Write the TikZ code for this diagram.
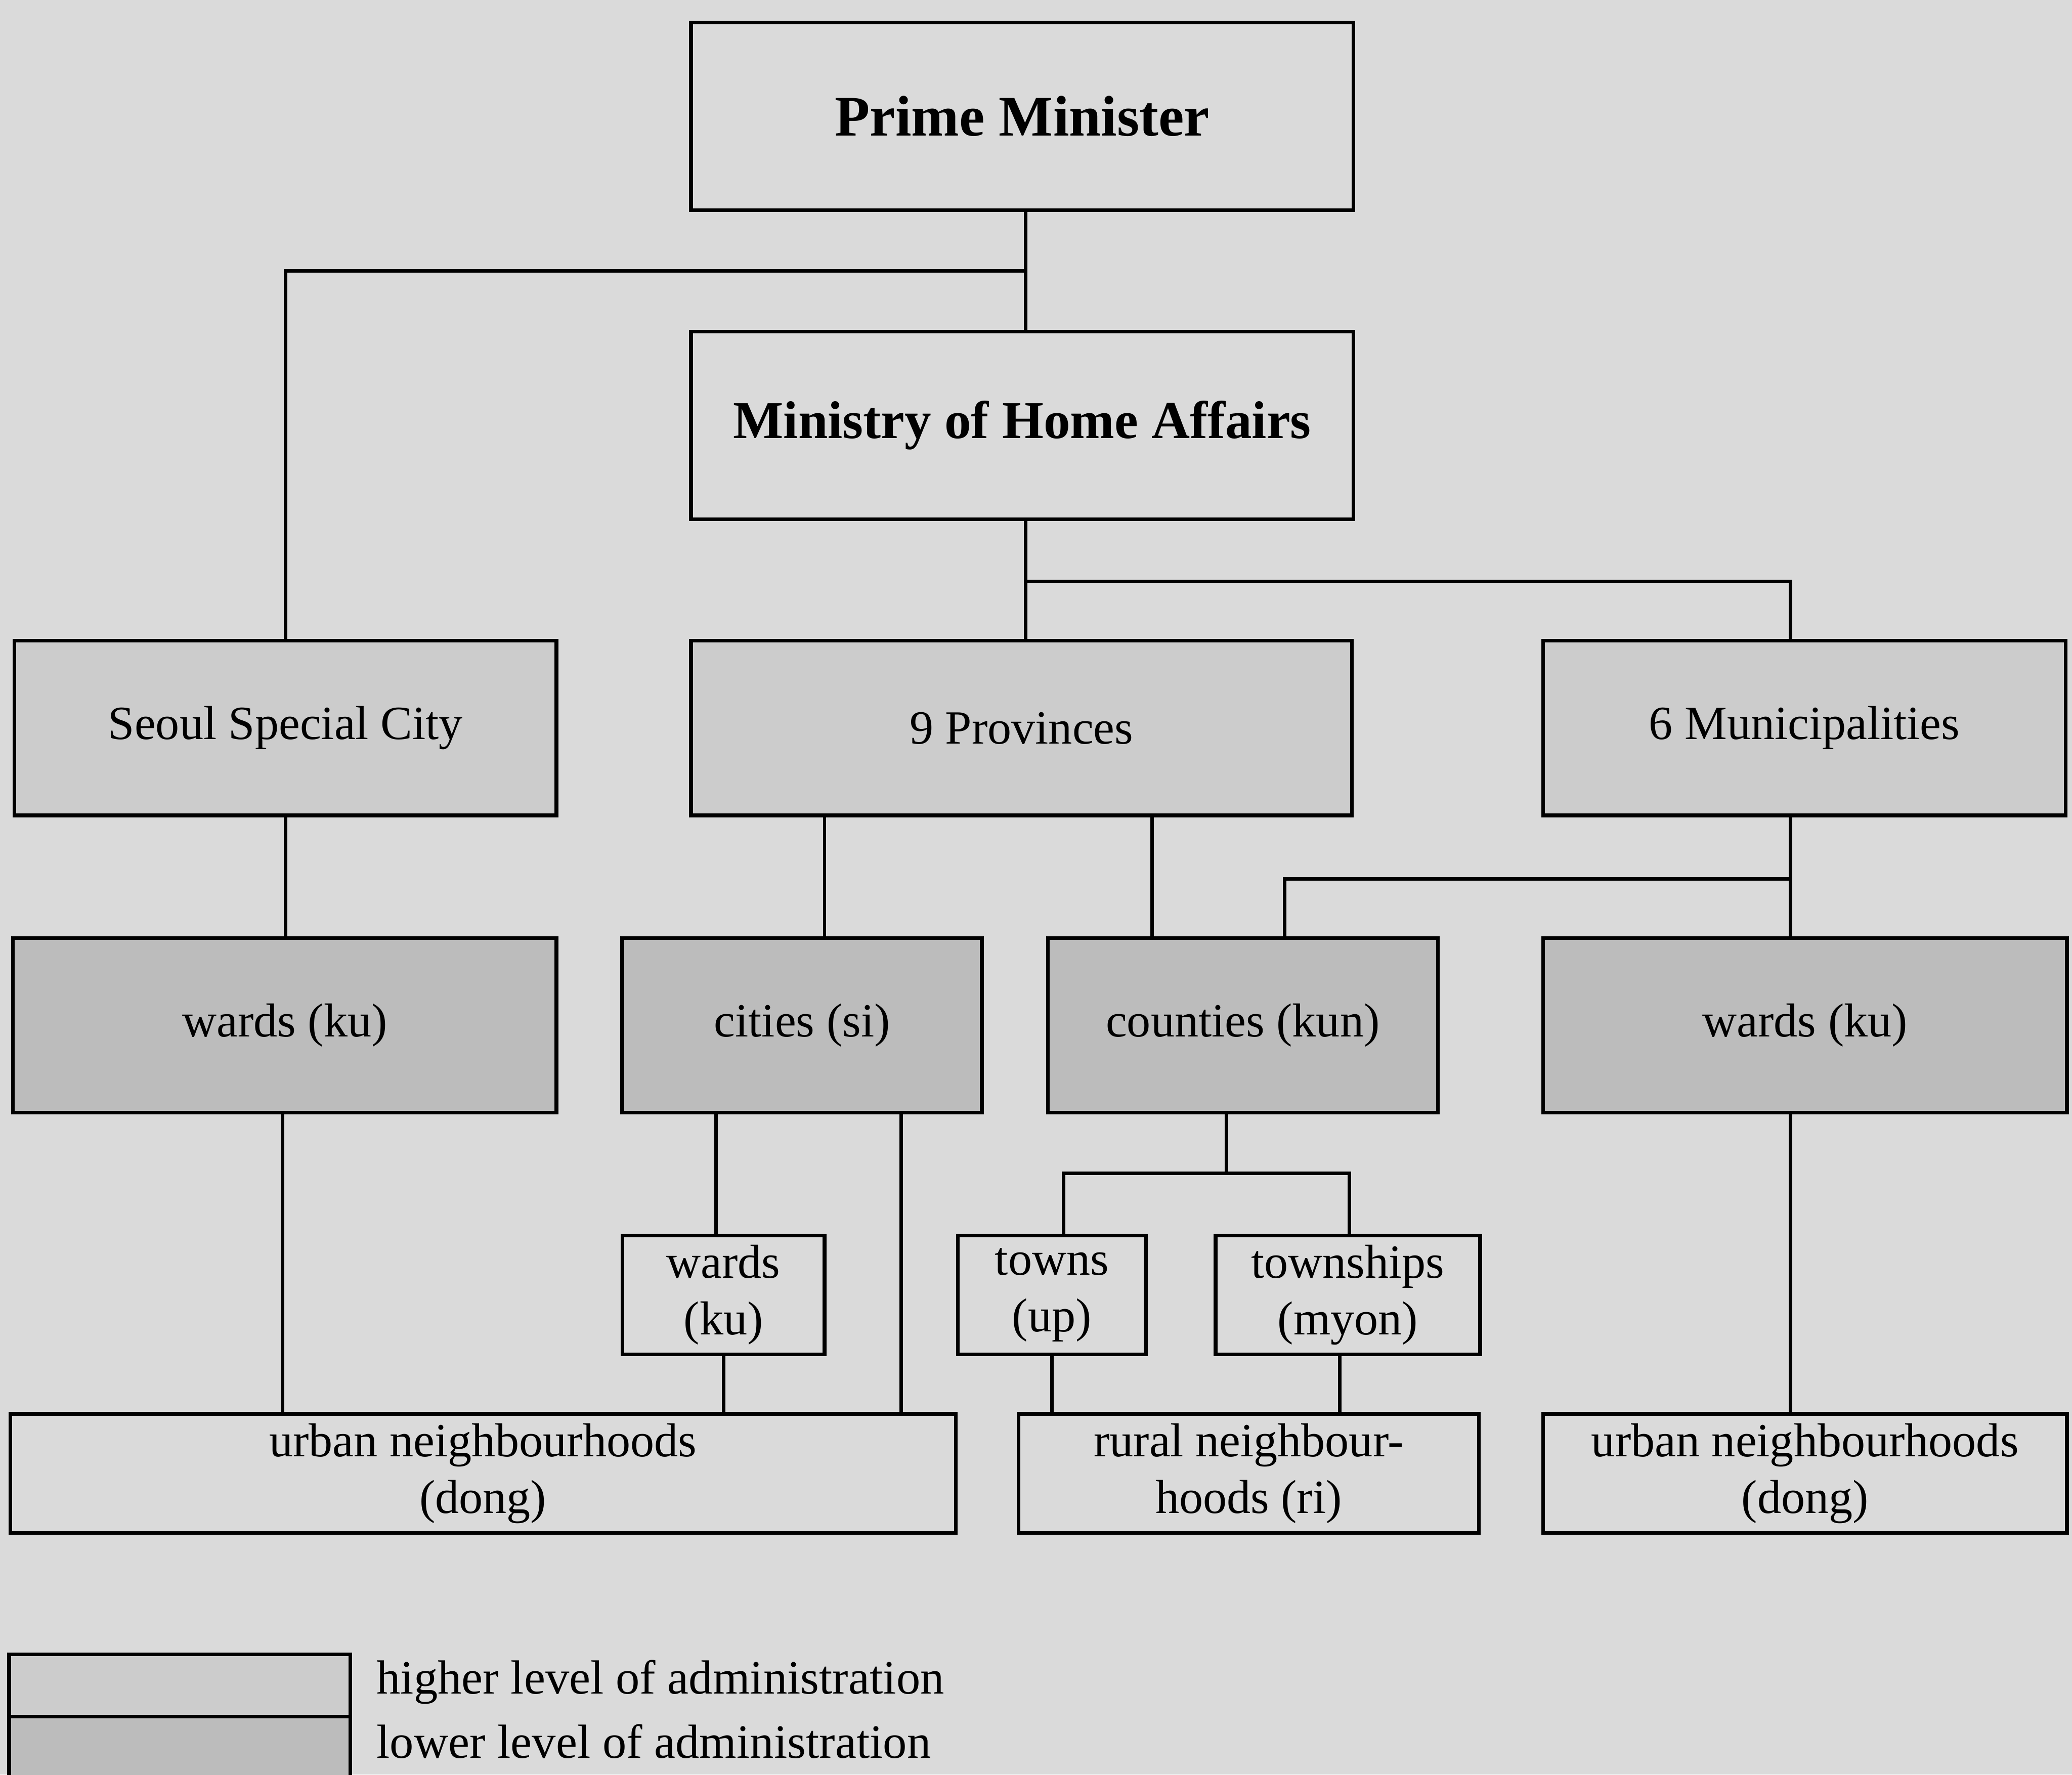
\documentclass[tikz,border=0pt]{standalone}
\usepackage{fontspec}
\setmainfont{Liberation Serif}
\definecolor{paper}{RGB}{218,218,218}
\definecolor{higherfill}{RGB}{204,204,204}
\definecolor{lowerfill}{RGB}{188,188,188}
\begin{document}
\begin{tikzpicture}[x=0.01cm, y=-0.01cm,
  every node/.style={inner sep=0pt, outer sep=0pt},
  box/.style={draw=black, line width=0.8pt, rectangle, align=center,
    font=\fontsize{10.25}{12.2}\selectfont},
  plainbox/.style={box, fill=paper},
  higherbox/.style={box, fill=higherfill},
  lowerbox/.style={box, fill=lowerfill},
  titlebox/.style={plainbox, font=\fontsize{12}{14}\selectfont\bfseries},
  link/.style={draw=black, line width=0.75pt}]

% page
\fill[paper] (0,0) rectangle (1568,1343);
\useasboundingbox (0,0) rectangle (1568,1343);

% central government
\node[titlebox, font=\fontsize{12.35}{14}\selectfont\bfseries, minimum width=5.01cm, minimum height=1.42cm] (pm) at (773.5,88) {Prime Minister};
\node[titlebox, font=\fontsize{11.45}{14}\selectfont\bfseries, minimum width=5.01cm, minimum height=1.42cm] (mha) at (773.5,322) {Ministry of Home Affairs};

% higher level of administration
\node[higherbox, minimum width=4.10cm, minimum height=1.32cm] (seoul) at (216,551) {Seoul Special City};
\node[higherbox, minimum width=5.00cm, minimum height=1.32cm] (prov) at (773,551) {9 Provinces};
\node[higherbox, minimum width=3.95cm, minimum height=1.32cm] (muni) at (1365.5,551) {6 Municipalities};

% lower level of administration
\node[lowerbox, minimum width=4.11cm, minimum height=1.32cm] (wardsL) at (215.5,776) {wards (ku)};
\node[lowerbox, minimum width=2.72cm, minimum height=1.32cm] (cities) at (607,776) {cities (si)};
\node[lowerbox, minimum width=2.95cm, minimum height=1.32cm] (counties) at (940.5,776) {counties (kun)};
\node[lowerbox, minimum width=3.96cm, minimum height=1.32cm] (wardsR) at (1366,776) {wards (ku)};

% sub-units
\node[plainbox, minimum width=1.53cm, minimum height=0.90cm] (wardsS) at (547.5,980) {wards\\(ku)};
\node[plainbox, minimum width=1.42cm, minimum height=0.90cm] (towns) at (796,980) {towns\\(up)};
\node[plainbox, minimum width=2.00cm, minimum height=0.90cm] (townships) at (1020,980) {townships\\(myon)};

% neighbourhoods
\node[plainbox, minimum width=7.15cm, minimum height=0.90cm] (urbanL) at (365.5,1115) {urban neighbourhoods\\(dong)};
\node[plainbox, minimum width=3.48cm, minimum height=0.90cm] (rural) at (945,1115) {rural neighbour-\\hoods (ri)};
\node[plainbox, minimum width=3.96cm, minimum height=0.90cm] (urbanR) at (1366,1115) {urban neighbourhoods\\(dong)};

% junctions
\coordinate (j1) at (776,205);
\coordinate (j2) at (776,440);
\coordinate (j3) at (1355,665);
\coordinate (j4) at (928,888);

% connectors
\draw[link] (pm.south -| 776,0) -- (mha.north -| 776,0);
\draw[link] (seoul.north) |- (j1);
\draw[link] (mha.south -| 776,0) -- (prov.north -| 776,0);
\draw[link] (j2) -| (muni.north -| 1355,0);
\draw[link] (seoul.south) -- (wardsL.north -| seoul.south);
\draw[link] (prov.south -| 624,0) -- (cities.north -| 624,0);
\draw[link] (prov.south -| 872,0) -- (counties.north -| 872,0);
\draw[link] (muni.south -| 1355,0) -- (wardsR.north -| 1355,0);
\draw[link] (j3) -| (counties.north -| 972,0);
\draw[link] (wardsL.south -| 214,0) -- (urbanL.north -| 214,0);
\draw[link] (cities.south -| 542,0) -- (wardsS.north -| 542,0);
\draw[link] (cities.south -| 682,0) -- (urbanL.north -| 682,0);
\draw[link] (wardsS.south) -- (urbanL.north -| wardsS.south);
\draw[link] (counties.south -| 928,0) -- (j4);
\draw[link] (towns.north -| 805,0) |- (j4) -| (townships.north -| 1021,0);
\draw[link] (towns.south) -- (rural.north -| towns.south);
\draw[link] (townships.south -| 1014,0) -- (rural.north -| 1014,0);
\draw[link] (wardsR.south -| 1355,0) -- (urbanR.north -| 1355,0);

% key
\node[higherbox, minimum width=2.58cm, minimum height=0.47cm] (keyhi) at (136,1275.5) {};
\node[lowerbox, minimum width=2.58cm, minimum height=0.50cm] (keylo) at (136,1324) {};
\node[anchor=west, font=\fontsize{10.3}{12.2}\selectfont] (keyhitext) at (285,1273) {higher level of administration};
\node[anchor=west, font=\fontsize{10.3}{12.2}\selectfont] (keylotext) at (285,1318) {lower level of administration};
\end{tikzpicture}
\end{document}
